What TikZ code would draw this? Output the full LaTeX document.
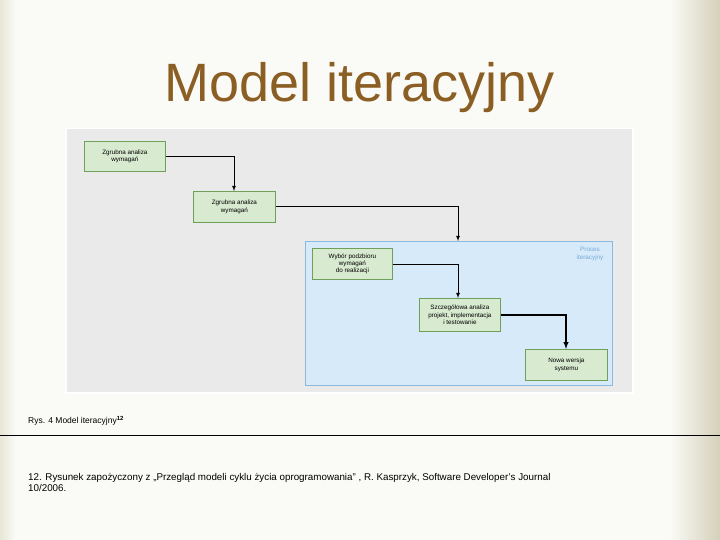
\documentclass[tikz,border=0pt]{standalone}
\usepackage{fontspec}
\setmainfont{Liberation Sans}
\definecolor{bgc}{RGB}{250,250,246}
\definecolor{edgeR}{RGB}{212,208,185}
\definecolor{edgeL}{RGB}{232,230,215}
\definecolor{boxfill}{RGB}{216,234,208}
\definecolor{boxline}{RGB}{110,160,90}
\definecolor{titlec}{RGB}{139,94,35}
\definecolor{panelc}{RGB}{234,234,234}
\definecolor{procline}{RGB}{140,185,220}
\definecolor{procfill}{RGB}{214,234,250}
\definecolor{proctext}{RGB}{120,170,215}
\begin{document}
\begin{tikzpicture}[x=1pt,y=-1pt,
  box/.style={draw=boxline,line width=0.8pt,fill=boxfill,font=\fontsize{6.3}{7.3}\selectfont,align=center,inner sep=0pt,anchor=north west},
  conn/.style={draw=black,line width=0.8pt,-latex}]
\useasboundingbox (0,0) rectangle (720,540);
\fill[bgc] (0,0) rectangle (720,540);
\shade[left color=bgc,right color=edgeR] (670,0) rectangle (720,540);
\shade[right color=bgc,left color=edgeL] (0,0) rectangle (15,540);
\node[text=titlec,font=\fontsize{54}{60}\selectfont] (title) at (360,88) {Model iteracyjny};
\node[draw=white,line width=1.5pt,fill=panelc,minimum width=567,minimum height=264,anchor=north west,inner sep=0pt] (panel) at (65,128) {};
\node[draw=procline,line width=0.8pt,fill=procfill,minimum width=307,minimum height=144,anchor=north west,inner sep=0pt] (proc) at (305,241) {};
\node[text=proctext,font=\fontsize{6.3}{7.3}\selectfont,align=center] (proclabel) at (590,254) {Proces\\iteracyjny};
\node[box,minimum width=81,minimum height=30] (b1) at (84,141) {Zgrubna analiza\\wymagań};
\node[box,minimum width=82,minimum height=31] (b2) at (193,191) {Zgrubna analiza\\wymagań};
\node[box,minimum width=80,minimum height=31] (b3) at (312,248) {Wybór podzbioru\\wymagań\\do realizacji};
\node[box,minimum width=81,minimum height=33] (b4) at (419,298) {Szczegółowa analiza\\projekt, implementacja\\i testowanie};
\node[box,minimum width=82,minimum height=31] (b5) at (525,349) {Nowa wersja\\systemu};
\draw[conn] (b1.east) -| (b2.north -| 234,0);
\draw[conn] (b2.east) -| (proc.north -| 458,0);
\draw[conn] (b3.east) -| (b4.north -| 458,0);
\draw[conn,line width=1.4pt] (b4.east) -| (b5.north -| 566,0);
\node[anchor=west,font=\fontsize{8.5}{10}\selectfont,inner sep=0pt] (cap) at (28,421) {Rys. 4 Model iteracyjny\textsuperscript{\textbf{12}}};
\draw[black,line width=0.7pt] (0,435) -- (720,435);
\node[anchor=north west,font=\fontsize{9.8}{11.5}\selectfont,align=left,inner sep=0pt] (foot) at (28,473) {12. Rysunek zapożyczony z „Przegląd modeli cyklu życia oprogramowania” , R. Kasprzyk, Software Developer's Journal\\10/2006.};
\end{tikzpicture}
\end{document}
